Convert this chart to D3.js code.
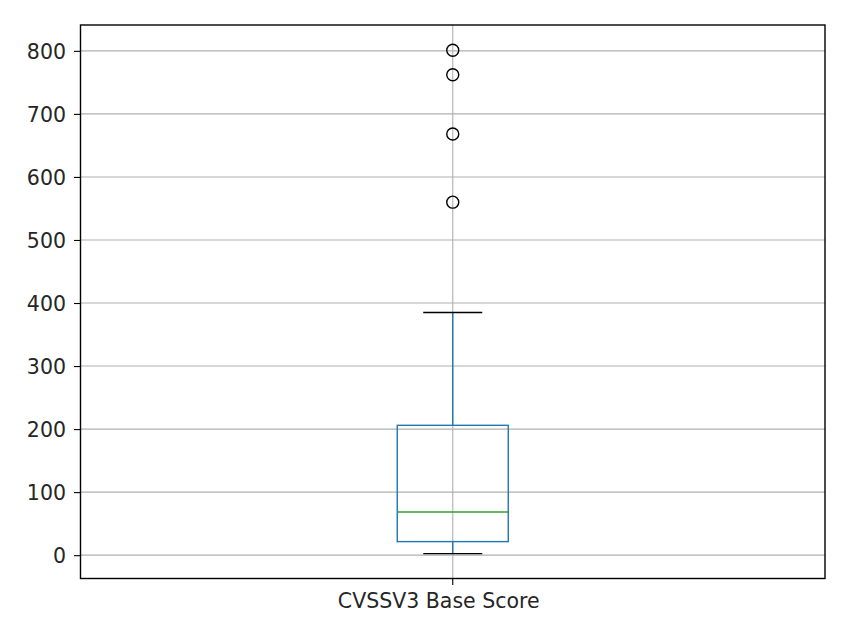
<!DOCTYPE html>
<html>
<head>
<meta charset="utf-8">
<script src="https://cdn.jsdelivr.net/npm/d3@7"></script>
<style>
  body { margin: 0; background: #fff; }
  text { font-family: "DejaVu Sans", sans-serif; fill: #262626; }
</style>
</head>
<body>
<div id="chart"></div>
<script>
// values
var categories = ["CVSSV3 Base Score"];
var whiskerLow = [2.5];
var q1 = [21.5];
var median = [68.5];
var q3 = [206];
var whiskerHigh = [385];
var outliers = [560, 668, 762, 801];
var yTicks = [0, 100, 200, 300, 400, 500, 600, 700, 800];

var width = 846;
var height = 620;
var plotLeft = 80.5, plotRight = 825, plotTop = 25, plotBottom = 578.5;
var fontSize = 20.5;

var svg = d3.select("#chart")
  .append("svg")
  .attr("width", width)
  .attr("height", height);

var x = d3.scaleBand()
  .domain(categories)
  .range([plotLeft, plotRight]);

var y = d3.scaleLinear()
  .domain([-37, 841])
  .range([plotBottom, plotTop]);

var boxW = 111;
var capW = 59;

function cx(i) { return x(categories[i]) + x.bandwidth() / 2; }

// grid
svg.append("g")
  .selectAll("line")
  .data(yTicks)
  .enter()
  .append("line")
  .attr("x1", plotLeft)
  .attr("x2", plotRight)
  .attr("y1", function(d) { return y(d); })
  .attr("y2", function(d) { return y(d); })
  .attr("stroke", "#b0b0b0")
  .attr("stroke-width", 1.1);

svg.append("g")
  .selectAll("line")
  .data(categories)
  .enter()
  .append("line")
  .attr("x1", function(d, i) { return cx(i); })
  .attr("x2", function(d, i) { return cx(i); })
  .attr("y1", plotTop)
  .attr("y2", plotBottom)
  .attr("stroke", "#b0b0b0")
  .attr("stroke-width", 1.1);

// boxes
var box = svg.append("g")
  .selectAll("g")
  .data(categories)
  .enter()
  .append("g");

box.append("line")
  .attr("x1", function(d, i) { return cx(i); })
  .attr("x2", function(d, i) { return cx(i); })
  .attr("y1", function(d, i) { return y(q3[i]); })
  .attr("y2", function(d, i) { return y(whiskerHigh[i]); })
  .attr("stroke", "#1f77b4")
  .attr("stroke-width", 1.4);

box.append("line")
  .attr("x1", function(d, i) { return cx(i); })
  .attr("x2", function(d, i) { return cx(i); })
  .attr("y1", function(d, i) { return y(q1[i]); })
  .attr("y2", function(d, i) { return y(whiskerLow[i]); })
  .attr("stroke", "#1f77b4")
  .attr("stroke-width", 1.4);

box.append("rect")
  .attr("x", function(d, i) { return cx(i) - boxW / 2; })
  .attr("y", function(d, i) { return y(q3[i]); })
  .attr("width", boxW)
  .attr("height", function(d, i) { return y(q1[i]) - y(q3[i]); })
  .attr("fill", "none")
  .attr("stroke", "#1f77b4")
  .attr("stroke-width", 1.4);

box.append("line")
  .attr("x1", function(d, i) { return cx(i) - boxW / 2; })
  .attr("x2", function(d, i) { return cx(i) + boxW / 2; })
  .attr("y1", function(d, i) { return y(median[i]); })
  .attr("y2", function(d, i) { return y(median[i]); })
  .attr("stroke", "#2ca02c")
  .attr("stroke-width", 1.4);

[whiskerHigh, whiskerLow].forEach(function(arr) {
  box.append("line")
    .attr("x1", function(d, i) { return cx(i) - capW / 2; })
    .attr("x2", function(d, i) { return cx(i) + capW / 2; })
    .attr("y1", function(d, i) { return y(arr[i]); })
    .attr("y2", function(d, i) { return y(arr[i]); })
    .attr("stroke", "#000")
    .attr("stroke-width", 1.4);
});

svg.append("g")
  .selectAll("circle")
  .data(outliers)
  .enter()
  .append("circle")
  .attr("cx", cx(0))
  .attr("cy", function(d) { return y(d); })
  .attr("r", 6)
  .attr("fill", "none")
  .attr("stroke", "#000")
  .attr("stroke-width", 1.4);

// axes
var yAxis = d3.axisLeft(y).tickValues(yTicks).tickSize(6.5).tickPadding(8).tickSizeOuter(0);
var gy = svg.append("g")
  .attr("transform", "translate(" + plotLeft + ",0)")
  .call(yAxis);
gy.select(".domain").remove();
gy.selectAll("line").attr("stroke", "#000").attr("stroke-width", 1.1);
gy.selectAll("text").attr("font-size", fontSize).attr("fill", "#262626")
  .attr("dy", "0.36em")
  .style("font-family", "'DejaVu Sans', sans-serif");

var xAxis = d3.axisBottom(x).tickSize(6.5).tickPadding(8.5).tickSizeOuter(0);
var gx = svg.append("g")
  .attr("transform", "translate(0," + plotBottom + ")")
  .call(xAxis);
gx.select(".domain").remove();
gx.selectAll("line").attr("stroke", "#000").attr("stroke-width", 1.1);
gx.selectAll("text").attr("font-size", fontSize).attr("fill", "#262626")
  .attr("dx", -14)
  .style("font-family", "'DejaVu Sans', sans-serif");

// frame
svg.append("rect")
  .attr("x", plotLeft)
  .attr("y", plotTop)
  .attr("width", plotRight - plotLeft)
  .attr("height", plotBottom - plotTop)
  .attr("fill", "none")
  .attr("stroke", "#000")
  .attr("stroke-width", 1.4);
</script>
</body>
</html>
